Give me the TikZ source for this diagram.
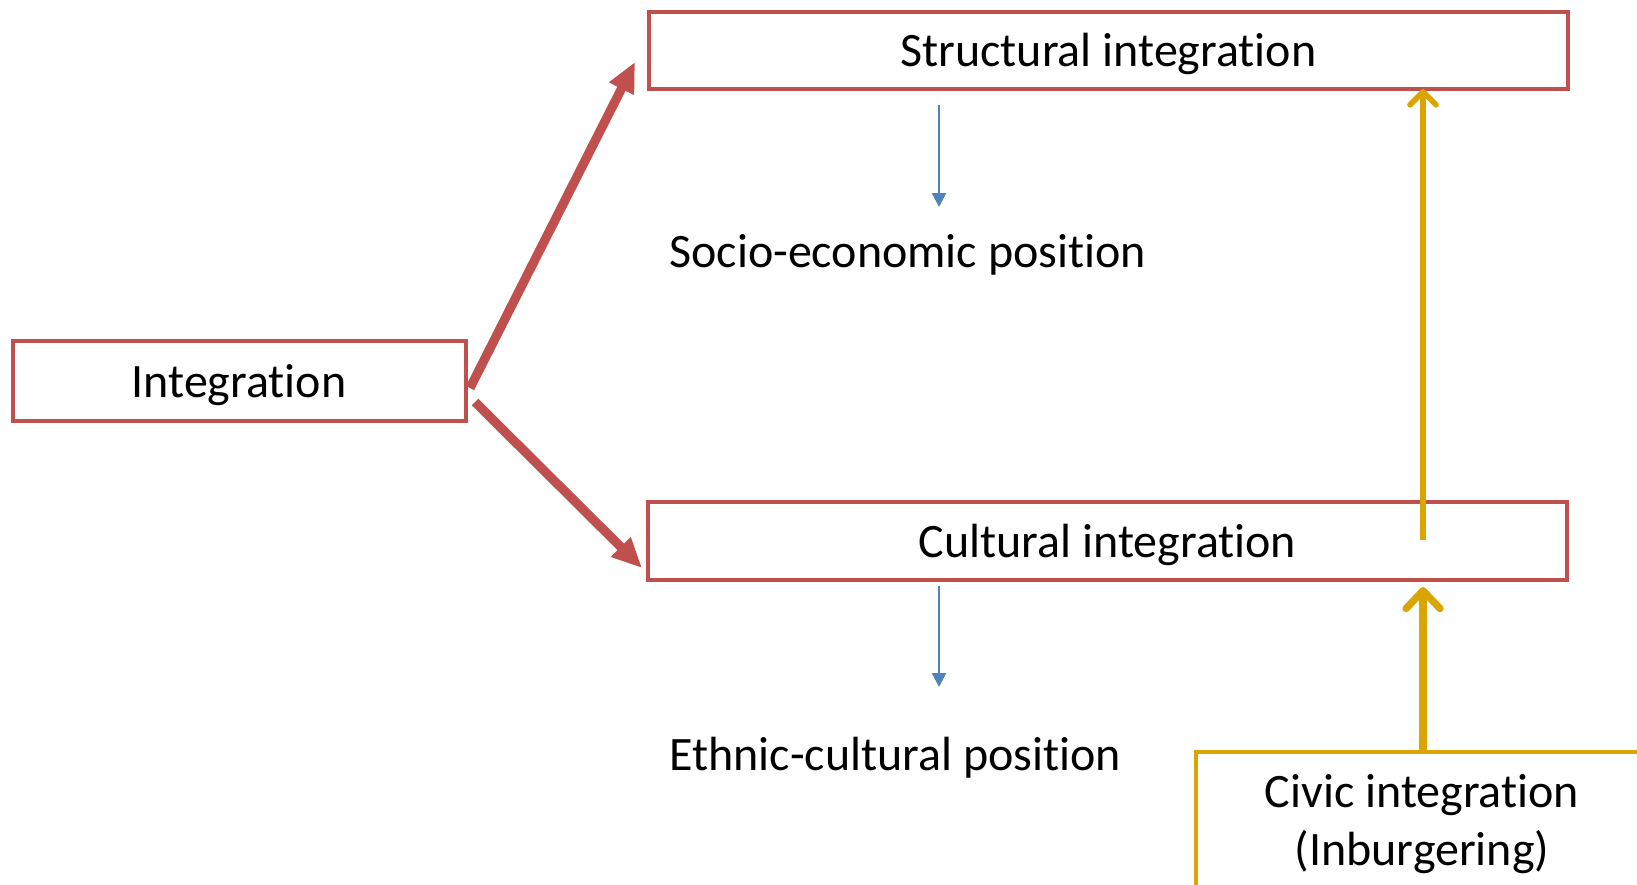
\documentclass[tikz,border=0pt]{standalone}
\usepackage{fontspec}
\setmainfont{Carlito}[Ligatures=NoCommon]
\usetikzlibrary{arrows.meta}
\definecolor{boxred}{RGB}{192,80,77}
\definecolor{civgold}{RGB}{218,165,0}
\definecolor{flowblue}{RGB}{79,129,189}
\begin{document}
\begin{tikzpicture}[x=0.5pt,y=-0.5pt,
  every node/.style={font=\fontsize{24}{29}\selectfont},
  redbox/.style={draw=boxred,line width=2pt,inner sep=0pt},
  civbox/.style={draw=civgold,line width=2pt},
  lbl/.style={inner sep=0pt},
  redarrow/.style={draw=boxred,line width=4.6pt,-{Triangle[length=15pt,width=13pt]}},
  bluearrow/.style={draw=flowblue,line width=1.2pt,-{Triangle[length=7pt,width=7pt]}},
  goldthick/.style={draw=civgold,line width=3.6pt,line cap=butt,-{Straight Barb[length=9pt,width=17pt,round]}},
  goldthin/.style={draw=civgold,line width=2.8pt,-{Straight Barb[length=6.5pt,width=13pt,round]}}]
\useasboundingbox (0,0) rectangle (1637,884);
\clip (0,0) rectangle (1637,884);
\node[redbox,minimum width=459.5pt,minimum height=38.5pt] (struct) at (1108.5,50) {};
\node[lbl] (structtxt) at (1108.5,54) {Structural integration};
\node[redbox,minimum width=226.5pt,minimum height=40pt] (integ) at (239,381) {};
\node[lbl] (integtxt) at (239,385) {Integration};
\node[redbox,minimum width=459.5pt,minimum height=39pt] (cult) at (1107.5,541) {};
\node[lbl] (culttxt) at (1107.5,545) {Cultural integration};
\node[anchor=west,lbl] (socio) at (669,255) {Socio-economic position};
\node[anchor=west,lbl] (ethnic) at (669,758) {Ethnic-cultural position};
\draw[civbox] (1196,752) rectangle (1700,950);
\node[align=center,lbl] (civic) at (1422,824) {Civic integration\\(Inburgering)};
% connectors
\coordinate (a1s) at (470,388);
\coordinate (a1e) at (635,62);
\coordinate (a2s) at (475,402);
\coordinate (a2e) at (642,568);
\draw[redarrow] (a1s) -- (a1e);
\draw[redarrow] (a2s) -- (a2e);
\coordinate (b1s) at (939,105);
\coordinate (b1e) at (939,207);
\coordinate (b2s) at (939,586);
\coordinate (b2e) at (939,687);
\draw[bluearrow] (b1s) -- (b1e);
\draw[bluearrow] (b2s) -- (b2e);
\coordinate (civtop) at (1423,752);
\coordinate (cultbot) at (1423,587);
\coordinate (cultin) at (1423,540);
\coordinate (structbot) at (1423,89);
\draw[goldthick] (civtop) -- (cultbot);
\draw[goldthin] (cultin) -- (structbot);
\end{tikzpicture}
\end{document}
